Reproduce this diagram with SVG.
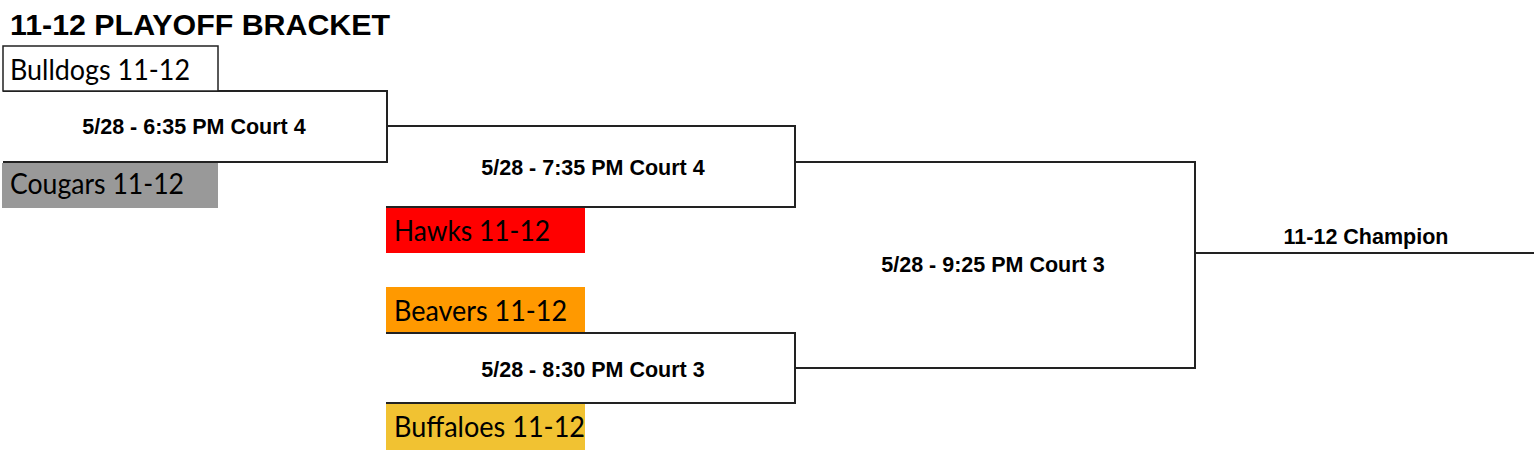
<svg xmlns="http://www.w3.org/2000/svg" width="1536" height="450" viewBox="0 0 1536 450">
<style>
.line{fill:none;stroke:#222;stroke-width:2}
.team{font-family:Lato,"Open Sans","Liberation Sans",sans-serif;font-size:28px;fill:#000}
.match{font-family:"Liberation Sans",Arial,sans-serif;font-weight:bold;font-size:21.5px;fill:#000;text-anchor:middle}
.title{font-family:"Liberation Sans",Arial,sans-serif;font-weight:bold;font-size:30px;fill:#000}
</style>
<rect width="1536" height="450" fill="#fff"/>
<text class="title" x="10" y="35" textLength="380" lengthAdjust="spacingAndGlyphs">11-12 PLAYOFF BRACKET</text>
<g id="connectors">
  <path class="line" d="M3,91 H387 V162 H3"/>
  <path class="line" d="M387,126 H795 V207 H386"/>
  <path class="line" d="M386,333 H795 V403 H386"/>
  <path class="line" d="M795,162 H1195 V368 H795"/>
  <path class="line" d="M1195,253 H1534"/>
</g>
<g id="bulldogs">
  <rect x="3" y="46" width="215" height="45" fill="#fff" stroke="#222" stroke-width="1.5"/>
  <text class="team" x="10" y="80" textLength="180" lengthAdjust="spacingAndGlyphs">Bulldogs 11-12</text>
</g>
<g id="cougars">
  <rect x="2" y="163" width="216" height="45" fill="#999999"/>
  <text class="team" x="10" y="194" textLength="174" lengthAdjust="spacingAndGlyphs">Cougars 11-12</text>
</g>
<g id="hawks">
  <rect x="386" y="208" width="199" height="45" fill="#ff0000"/>
  <text class="team" x="394" y="241" textLength="156" lengthAdjust="spacingAndGlyphs">Hawks 11-12</text>
</g>
<g id="beavers">
  <rect x="386" y="287" width="199" height="45" fill="#ff9900"/>
  <text class="team" x="394" y="321" textLength="173" lengthAdjust="spacingAndGlyphs">Beavers 11-12</text>
</g>
<g id="buffaloes">
  <rect x="386" y="404" width="199" height="46" fill="#f1c232"/>
  <text class="team" x="394" y="437" textLength="191" lengthAdjust="spacingAndGlyphs">Buffaloes 11-12</text>
</g>
<g id="match1">
  <text class="match" x="194" y="134">5/28 - 6:35 PM Court 4</text>
</g>
<g id="match2">
  <text class="match" x="593" y="175">5/28 - 7:35 PM Court 4</text>
</g>
<g id="match3">
  <text class="match" x="593" y="377">5/28 - 8:30 PM Court 3</text>
</g>
<g id="final">
  <text class="match" x="993" y="272">5/28 - 9:25 PM Court 3</text>
</g>
<g id="champion">
  <text class="match" x="1366" y="244">11-12 Champion</text>
</g>
</svg>
